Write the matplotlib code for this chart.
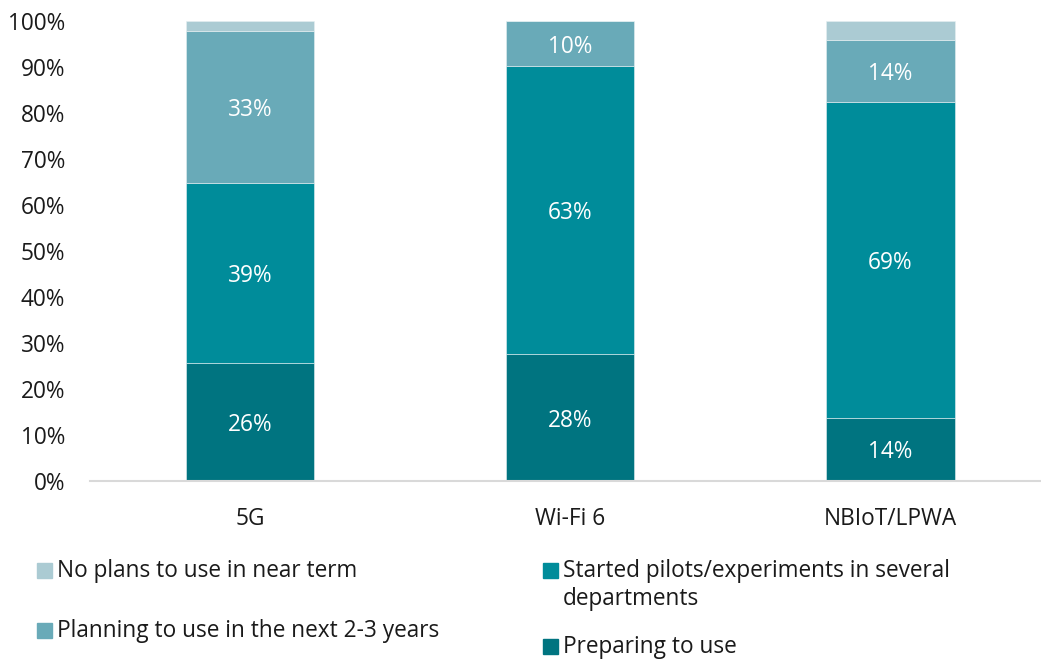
import matplotlib
matplotlib.use('Agg')
from matplotlib import pyplot as plt
from matplotlib.patches import Rectangle
import numpy as np

plt.rcParams['font.family'] = ['Open Sans', 'DejaVu Sans']

# Data (percent shares, bottom to top)
categories = ['5G', 'Wi-Fi 6', 'NBIoT/LPWA']
preparing = [25.6, 27.6, 13.7]
pilots = [39.1, 62.6, 68.6]
planning = [33.1, 9.8, 13.6]
no_plans = [2.2, 0.0, 4.1]

series_names = ['Preparing to use',
                'Started pilots/experiments in several\ndepartments',
                'Planning to use in the next 2-3 years',
                'No plans to use in near term']
colors = ['#007480', '#008C9A', '#69AAB8', '#ABCBD3']
labeled = [True, True, True, False]

FS = 16.3
fig = plt.figure(figsize=(10.41, 6.62), dpi=100)
ax = fig.add_axes([90 / 1041, 1 - 481 / 662, (1041 - 90) / 1041, 460 / 662])

x = np.arange(len(categories))
bottom = np.zeros(len(categories))
for vals, col, lab in zip([preparing, pilots, planning, no_plans], colors, labeled):
    vals = np.array(vals)
    ax.bar(x, vals, 0.4, bottom=bottom, color=col, edgecolor='#e6f0f2', linewidth=0.4)
    if lab:
        for xi, b, v in zip(x, bottom, vals):
            if v > 0:
                ax.text(xi, b + v / 2, f'{round(v):.0f}%', ha='center', va='center_baseline',
                        color='white', fontsize=FS)
    bottom += vals

ax.set_xlim(-0.5, 2.47)
ax.set_ylim(0, 100)
ax.set_yticks(np.arange(0, 101, 10))
ax.set_yticklabels([f'{v}%' for v in range(0, 101, 10)], fontsize=FS, color='#1a1a1a')
ax.set_xticks(x)
ax.set_xticklabels(categories, fontsize=FS, color='#1a1a1a')
ax.tick_params(axis='both', length=0)
ax.tick_params(axis='y', pad=18)
ax.tick_params(axis='x', pad=19)
for s in ['top', 'right', 'left']:
    ax.spines[s].set_visible(False)
ax.spines['bottom'].set_color('#d9d9d9')
ax.spines['bottom'].set_linewidth(1.5)

# Legend laid out in two columns like the original
W, H = 1041, 662
entries = [(3, 37, 571, 571), (2, 37, 631, 631), (1, 543, 571, 585), (0, 543, 647, 647)]
for idx, px, py, ty in entries:
    fig.patches.append(Rectangle((px / W, 1 - (py + 7) / H), 15 / W, 15 / H,
                                 transform=fig.transFigure, color=colors[idx]))
    fig.text((px + 20) / W, 1 - ty / H, series_names[idx], fontsize=FS,
             color='#1a1a1a', va='center', linespacing=1.22)

fig.savefig('out.png', dpi=100)
